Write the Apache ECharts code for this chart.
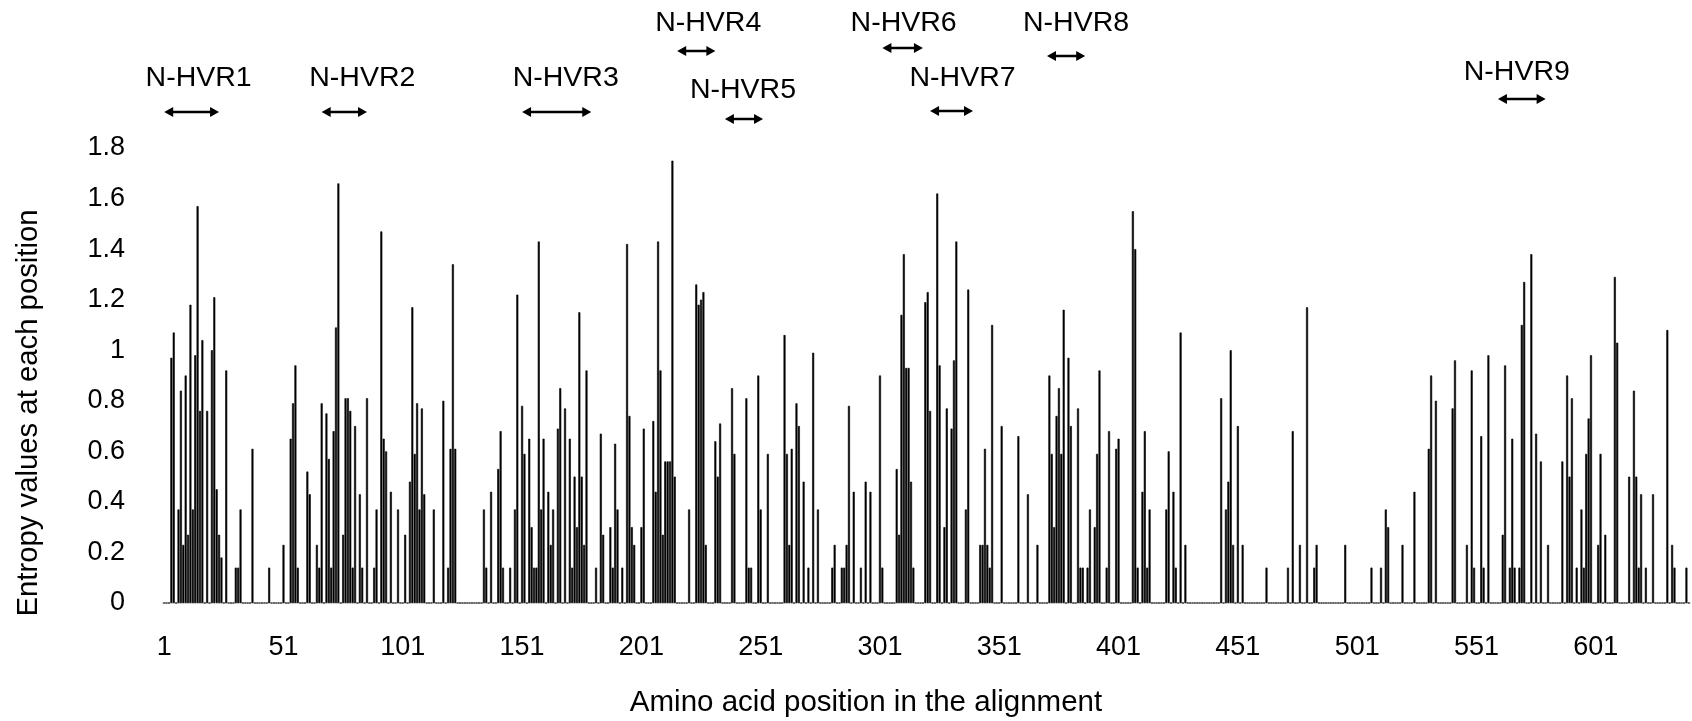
<!DOCTYPE html>
<html>
<head>
<meta charset="utf-8">
<script src="https://cdn.jsdelivr.net/npm/echarts@6/dist/echarts.min.js"></script>
<style>
  html, body { margin: 0; padding: 0; background: #ffffff; }
  #chart { width: 1692px; height: 721px; }
</style>
</head>
<body>
<div id="chart"></div>
<script>
// Number of aligned amino-acid positions
const positionCount = 640;

// Shannon entropy at each alignment position (1..640)
const entropy = [
  0,0,0,0.97,1.07,0,0.37,0.84,0.23,0.9,0.27,1.18,0.37,0.98,1.57,0.76,1.04,0,0.76,0,
  1,1.21,0.45,0.27,0.18,0,0.92,0,0,0,0.14,0.14,0.37,0,0,0,0,0.61,0,0,
  0,0,0,0,0.14,0,0,0,0,0,0.23,0,0,0.65,0.79,0.94,0.14,0,0,0,
  0.52,0.43,0,0,0.23,0.14,0.79,0,0.75,0.57,0.14,0.68,1.09,1.66,0,0.27,0.81,0.81,0.76,0.14,
  0.7,0,0.43,0.14,0,0.81,0,0,0.14,0.37,0,1.47,0.65,0.6,0,0.44,0,0,0.37,0,
  0,0.27,0,0.48,1.17,0.59,0.79,0.37,0.77,0.43,0,0,0,0.37,0,0,0,0.8,0,0.14,
  0.61,1.34,0.61,0,0,0,0,0,0,0,0,0,0,0,0.37,0.14,0,0.44,0,0,
  0.53,0.68,0.14,0,0,0.14,0,0.37,1.22,0,0.78,0.59,0,0.65,0.3,0.14,0.14,1.43,0.37,0.65,
  0,0.44,0.23,0.37,0,0.69,0.85,0,0.77,0,0.65,0.14,0.5,0.3,1.15,0.5,0.23,0.92,0,0,
  0,0.14,0,0.67,0.27,0,0,0.3,0.14,0.63,0.37,0,0.14,0,1.42,0.74,0.3,0.23,0,0,
  0.3,0.69,0,0,0,0.72,0.44,1.43,0.92,0.27,0.56,0.56,0.56,1.75,0.5,0,0,0,0,0,
  0.37,0,0,1.26,1.18,1.2,1.23,0.23,0,0,0,0.64,0.5,0.71,0,0,0,0,0.85,0.59,
  0,0,0,0,0.81,0.14,0.14,0,0,0.9,0.37,0,0,0.59,0,0,0,0,0,0,
  1.06,0.59,0.23,0.61,0,0.79,0.7,0,0.48,0,0.14,0,0.99,0,0.37,0,0,0,0,0,
  0.14,0.23,0,0,0.14,0.14,0.23,0.78,0,0.44,0,0,0.14,0,0.48,0,0.44,0,0,0,
  0.9,0.14,0,0,0,0,0,0.53,0.27,1.14,1.38,0.93,0.93,0.48,0.14,0,0,0,0,1.19,
  1.23,0.76,0,0,1.62,0.94,0,0.3,0.77,0,0.69,0.96,1.43,0,0,0,0.37,1.24,0,0,
  0,0,0.23,0.23,0.61,0.23,0.14,1.1,0,0,0,0.7,0,0,0,0,0,0,0.66,0,
  0,0,0.43,0,0,0,0.23,0,0,0,0,0.9,0.59,0.3,0.74,0.85,0.59,1.16,0,0.97,
  0.7,0,0,0.77,0.14,0.14,0,0.14,0.37,0,0.3,0.59,0.92,0,0,0.14,0.68,0,0,0.61,
  0.65,0,0,0,0,0,1.55,1.4,0.14,0,0.44,0.68,0.14,0.37,0,0,0,0,0,0,
  0.37,0.6,0,0.44,0.14,0,1.07,0,0.23,0,0,0,0,0,0,0,0,0,0,0,
  0,0,0,0.81,0,0.37,0.48,1,0.23,0,0.7,0,0.23,0,0,0,0,0,0,0,
  0,0,0.14,0,0,0,0,0,0,0,0,0.14,0,0.68,0,0,0.23,0,0,1.17,
  0,0,0.14,0.23,0,0,0,0,0,0,0,0,0,0,0,0.23,0,0,0,0,
  0,0,0,0,0,0,0.14,0,0,0,0.14,0,0.37,0.3,0,0,0,0,0,0.23,
  0,0,0,0,0.44,0,0,0,0,0,0.61,0.9,0,0.8,0,0,0,0,0,0,
  0.77,0.96,0,0,0,0,0.23,0,0.92,0.14,0,0,0.66,0.14,0,0.98,0,0,0,0,
  0,0.27,0.94,0,0.14,0.65,0.14,0,0.14,1.1,1.27,0,0,1.38,0,0.67,0,0.56,0,0,
  0.23,0,0,0,0,0,0.56,0,0.9,0.5,0.81,0,0.14,0,0.37,0.14,0.59,0.73,0.98,0,
  0,0.23,0.59,0,0.27,0,0,0,1.29,1.03,0,0,0,0,0.5,0,0.84,0.5,0.14,0.43,
  0,0.14,0,0,0.43,0,0,0,0,0,1.08,0,0.23,0.14,0,0,0,0,0.14,0
];

// Positions labelled on the x axis
const xTickLabels = ['1','51','101','151','201','251','301','351','401','451','501','551','601'];

// Axis titles
const xTitle = 'Amino acid position in the alignment';
const yTitle = 'Entropy values at each position';

// Hypervariable regions (start / end alignment position)
const hvrNames = ['N-HVR1','N-HVR2','N-HVR3','N-HVR4','N-HVR5','N-HVR6','N-HVR7','N-HVR8','N-HVR9'];
const hvrStart = [1, 67, 151, 216, 236, 302, 322, 371, 560];
const hvrEnd   = [24, 86, 180, 232, 252, 319, 340, 387, 580];

// Label layout: vertical placement (px from top) and horizontal nudge of each label
const hvrTextY  = [78, 78, 78, 23, 90, 23, 78, 23, 72];
const hvrArrowY = [112, 112, 112, 51, 119, 48, 111, 56, 99];
const hvrTextDx = [7, 18, 9, 12, -1, 1, 11, 10, -5];

const FONT = '"Liberation Sans", Arial, Helvetica, sans-serif';
const categories = Array.from({ length: positionCount }, (_, i) => String(i + 1));

const chart = echarts.init(document.getElementById('chart'), null, { renderer: 'canvas' });

chart.setOption({
  animation: false,
  backgroundColor: '#ffffff',
  grid: { left: 163, right: 2, top: 148, bottom: 118, containLabel: false },
  xAxis: {
    type: 'category',
    data: categories,
    boundaryGap: true,
    axisLine: { show: true, lineStyle: { color: '#d9d9d9', width: 2 } },
    axisTick: { show: false },
    axisLabel: {
      interval: (idx, value) => xTickLabels.indexOf(value) >= 0,
      fontFamily: FONT, fontSize: 27, color: '#000000', margin: 31
    },
    splitLine: { show: false }
  },
  yAxis: {
    type: 'value',
    min: 0, max: 1.8, interval: 0.2,
    axisLine: { show: false },
    axisTick: { show: false },
    splitLine: { show: false },
    axisLabel: { fontFamily: FONT, fontSize: 27, color: '#000000', margin: 38 }
  },
  series: [{
    type: 'bar',
    data: entropy,
    barWidth: '85%',
    itemStyle: { color: '#000000', borderColor: '#000000', borderWidth: 0.6 },
    silent: true
  }]
});

// Region labels with double-headed arrows above the bars
function arrowHead(x, y, dir) {
  const len = 9, half = 5;
  return {
    type: 'polygon',
    shape: { points: [[x, y], [x - dir * len, y - half], [x - dir * len, y + half]] },
    style: { fill: '#000000' },
    silent: true
  };
}

const graphics = [
  {
    type: 'text', x: 866, y: 703,
    style: { text: xTitle, fontFamily: FONT, fontSize: 29.5, fill: '#000000',
             textAlign: 'center', textVerticalAlign: 'middle' },
    silent: true
  },
  {
    type: 'text', x: 29, y: 413, rotation: Math.PI / 2,
    style: { text: yTitle, fontFamily: FONT, fontSize: 29.3, fill: '#000000',
             textAlign: 'center', textVerticalAlign: 'middle' },
    silent: true
  }
];

hvrNames.forEach((name, i) => {
  const x1 = chart.convertToPixel({ xAxisIndex: 0 }, hvrStart[i] - 1);
  const x2 = chart.convertToPixel({ xAxisIndex: 0 }, hvrEnd[i] - 1);
  const ay = hvrArrowY[i];
  graphics.push({
    type: 'line',
    shape: { x1: x1 + 4, y1: ay, x2: x2 - 4, y2: ay },
    style: { stroke: '#000000', lineWidth: 2.5 },
    silent: true
  });
  graphics.push(arrowHead(x1, ay, -1));
  graphics.push(arrowHead(x2, ay, 1));
  graphics.push({
    type: 'text',
    x: (x1 + x2) / 2 + hvrTextDx[i],
    y: hvrTextY[i],
    style: {
      text: name, fontFamily: FONT, fontSize: 28.5, fill: '#000000',
      textAlign: 'center', textVerticalAlign: 'middle'
    },
    silent: true
  });
});

chart.setOption({ graphic: graphics });
</script>
</body>
</html>
